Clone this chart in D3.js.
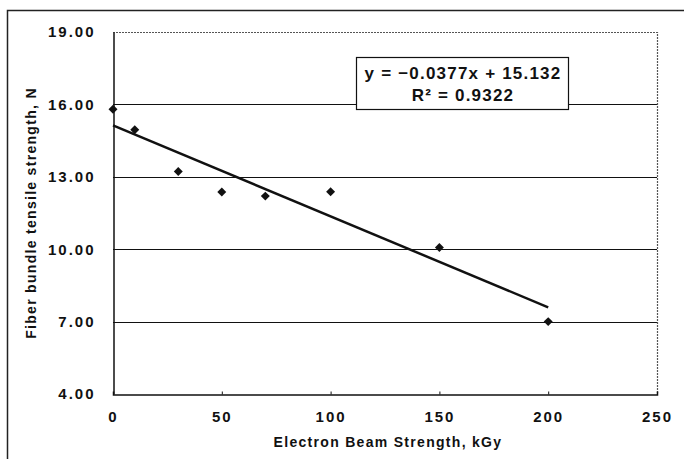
<!DOCTYPE html>
<html>
<head>
<meta charset="utf-8">
<script src="https://cdn.jsdelivr.net/npm/d3@7"></script>
<style>
  body { margin: 0; background: #fff; }
  svg { display: block; font-family: "Liberation Sans", Arial, sans-serif; }
</style>
</head>
<body>
<div id="chart"></div>
<script>
// data
var doses = [0, 10, 30, 50, 70, 100, 150, 200];
var strength = [15.8, 14.95, 13.22, 12.37, 12.2, 12.38, 10.07, 7.0];
var xTicks = [0, 50, 100, 150, 200, 250];
var yTicks = [4, 7, 10, 13, 16, 19];
var slope = -0.0377, intercept = 15.132;
var fitLines = ['y = \u22120.0377x + 15.132', 'R\u00b2 = 0.9322'];

var W = 684, H = 459;
var margin = {left: 113, top: 32, right: 27, bottom: 65};

var svg = d3.select('#chart').append('svg')
  .attr('width', W).attr('height', H);

// outer frame (bottom and right run off the page)
svg.append('rect')
  .attr('x', 7.5).attr('y', 10.5)
  .attr('width', 700).attr('height', 470)
  .attr('fill', 'none').attr('stroke', '#222').attr('stroke-width', 1.5);

var x = d3.scaleLinear().domain([0, 250]).range([margin.left, W - margin.right]);
var y = d3.scaleLinear().domain([4, 19]).range([H - margin.bottom, margin.top]);

// grid lines
svg.append('g').selectAll('line')
  .data(yTicks.filter(function (d) { return d > 4 && d < 19; }))
  .enter().append('line')
  .attr('x1', x(0)).attr('x2', x(250))
  .attr('y1', function (d) { return Math.round(y(d)) + 0.5; })
  .attr('y2', function (d) { return Math.round(y(d)) + 0.5; })
  .attr('stroke', '#111').attr('stroke-width', 1);

// top and right plot border, dotted look
svg.append('path')
  .attr('d', 'M' + x(0) + ',' + (Math.round(y(19)) + 0.5) + 'H' + (Math.round(x(250)) + 0.5) + 'V' + y(4))
  .attr('fill', 'none').attr('stroke', '#555').attr('stroke-width', 1.2)
  .attr('stroke-dasharray', '2,1');

// axes
var xAxis = d3.axisBottom(x).tickValues(xTicks).tickSize(-3).tickPadding(17)
  .tickFormat(d3.format('d'));
var yAxis = d3.axisLeft(y).tickValues(yTicks).tickSize(0).tickPadding(18)
  .tickFormat(d3.format('.2f'));

var gx = svg.append('g')
  .attr('transform', 'translate(0,' + (Math.round(y(4)) + 0.5) + ')')
  .call(xAxis);
var gy = svg.append('g')
  .attr('transform', 'translate(' + (Math.round(x(0)) + 0.5) + ',0)')
  .call(yAxis);

[gx, gy].forEach(function (g) {
  g.select('.domain').attr('stroke', '#111').attr('stroke-width', 1.5);
  g.selectAll('.tick line').attr('stroke', '#111');
  g.selectAll('text')
    .attr('fill', '#111')
    .style('font-size', '15px')
    .style('font-weight', 'bold')
    .style('letter-spacing', '2px')
    .style('font-family', '"Liberation Sans", Arial, sans-serif');
});
gx.selectAll('.tick').filter(function (d) { return d === 0 || d === 250; })
  .select('line').remove();

// axis titles
svg.append('text')
  .attr('x', (x(0) + x(250)) / 2 + 3).attr('y', 447)
  .attr('text-anchor', 'middle')
  .style('font-size', '14px').style('font-weight', 'bold')
  .style('letter-spacing', '1.3px')
  .attr('fill', '#111')
  .text('Electron Beam Strength, kGy');

svg.append('text')
  .attr('transform', 'translate(36,' + (y(4) + y(19)) / 2 + ') rotate(-90)')
  .attr('text-anchor', 'middle')
  .style('font-size', '14px').style('font-weight', 'bold')
  .style('letter-spacing', '1.3px')
  .attr('fill', '#111')
  .text('Fiber bundle tensile strength, N');

// trend line
svg.append('line')
  .attr('x1', x(0)).attr('y1', y(intercept))
  .attr('x2', x(200)).attr('y2', y(intercept + slope * 200))
  .attr('stroke', '#111').attr('stroke-width', 2.5);

// markers
svg.append('g').selectAll('path')
  .data(doses)
  .enter().append('path')
  .attr('d', d3.symbol().type(d3.symbolSquare).size(40))
  .attr('transform', function (d, i) {
    return 'translate(' + x(d) + ',' + y(strength[i]) + ') rotate(45)';
  })
  .attr('fill', '#111');

// equation box
var box = svg.append('g');
box.append('rect')
  .attr('x', 356.5).attr('y', 57.5).attr('width', 212).attr('height', 52)
  .attr('fill', '#fff').attr('stroke', '#111').attr('stroke-width', 1.2);
box.selectAll('text')
  .data(fitLines)
  .enter().append('text')
  .attr('x', 463).attr('y', function (d, i) { return 79 + i * 22; })
  .attr('text-anchor', 'middle')
  .style('font-size', '17px').style('font-weight', 'bold')
  .style('letter-spacing', '1.2px')
  .attr('fill', '#111')
  .text(function (d) { return d; });
</script>
</body>
</html>
